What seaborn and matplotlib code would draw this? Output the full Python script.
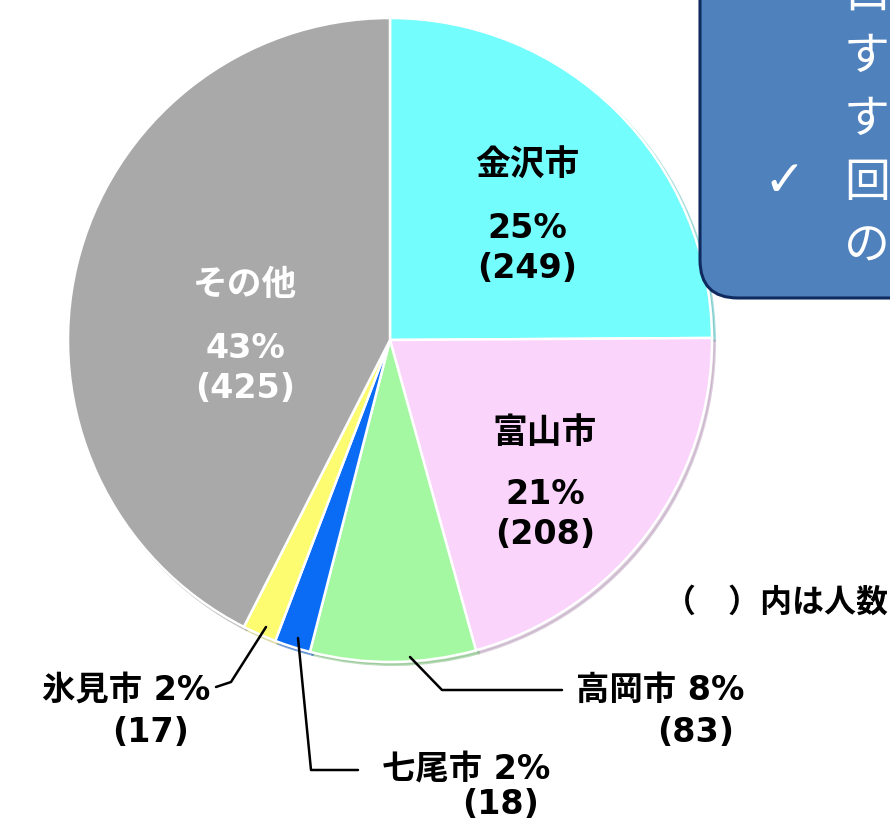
import matplotlib
matplotlib.use("Agg")
import matplotlib.pyplot as plt
from matplotlib.patches import FancyBboxPatch
import seaborn as sns

# data (clockwise from 12 o'clock)
cities = ['金沢市', '富山市', '高岡市', '七尾市', '氷見市', 'その他']
counts = [249, 208, 83, 18, 17, 425]
colors = ['#74FDFD', '#FAD4FB', '#A4F8A2', '#0A6CF5', '#FDFB70', '#A9A9A9']

box_lines = ['口', 'す', 'す', '回', 'の']
note_text = '（　）内は人数'

sns.set_theme(style='white')
plt.rcParams['font.family'] = ['Noto Sans CJK JP', 'DejaVu Sans']
plt.rcParams['text.color'] = 'black'
LAT = ['DejaVu Sans', 'Noto Sans CJK JP']   # latin first, CJK falls back

W, H = 890, 827
fig = plt.figure(figsize=(W / 100, H / 100), dpi=100)
ax = fig.add_axes([0, 0, 1, 1])
ax.set_xlim(0, W)
ax.set_ylim(0, H)
ax.set_aspect('equal')
ax.axis('off')


def Y(y):
    # image pixel row -> data y
    return H - y


total = sum(counts)
pcts = [int(c / total * 100 + 0.5) for c in counts]

ax.pie(counts, colors=colors, center=(390, Y(340)), radius=322,
       startangle=90, counterclock=False,
       wedgeprops=dict(edgecolor='white', linewidth=1.8),
       shadow=dict(ox=2, oy=-2, shade=0.25))
ax.set_xlim(0, W)
ax.set_ylim(0, H)

fs = 24
# labels inside the pie
inside = {0: (527, 165, 'black'), 1: (545, 432, 'black'), 5: (245, 285, 'white')}
for i, (x, y, col) in inside.items():
    ax.text(x, Y(y), cities[i], ha='center', va='center', fontsize=fs + 1,
            fontweight='bold', color=col)
    ax.text(x, Y(y + 63), f'{pcts[i]}%', ha='center', va='center', fontsize=fs,
            fontweight='bold', color=col, family=LAT)
    ax.text(x, Y(y + 103), f'({counts[i]})', ha='center', va='center',
            fontsize=fs, fontweight='bold', color=col, family=LAT)

# labels outside with leader lines
lk = dict(color='black', lw=1.8)
tk = dict(fontsize=fs, fontweight='bold', family=LAT, color='black')
# 高岡市
ax.plot([410, 442, 562], [Y(657), Y(690), Y(690)], **lk)
ax.text(576, Y(690), f'{cities[2]} {pcts[2]}%', ha='left', va='center', **tk)
ax.text(696, Y(733), f'({counts[2]})', ha='center', va='center', **tk)
# 七尾市
ax.plot([298, 311, 358], [Y(638), Y(770), Y(770)], **lk)
ax.text(382, Y(770), f'{cities[3]} {pcts[3]}%', ha='left', va='center', **tk)
ax.text(501, Y(805), f'({counts[3]})', ha='center', va='center', **tk)
# 氷見市
ax.plot([266, 231, 216], [Y(627), Y(682), Y(687)], **lk)
ax.text(210, Y(690), f'{cities[4]} {pcts[4]}%', ha='right', va='center', **tk)
ax.text(151, Y(733), f'({counts[4]})', ha='center', va='center', **tk)

# note (runs into the right edge, as in the source slide)
ax.text(664, Y(603), note_text, ha='left', va='center', fontsize=23,
        fontweight='bold', color='black')

# blue callout box (cropped at the top right)
box = FancyBboxPatch((700, Y(298)), 320, 400,
                     boxstyle='round,pad=0,rounding_size=38',
                     facecolor='#4F81BD', edgecolor='#0F2A5F', linewidth=2.2,
                     zorder=5)
ax.add_patch(box)
for k, ch in enumerate(box_lines):
    ax.text(844, Y(-6 + 63 * k), ch, ha='left', va='center', fontsize=33,
            color='white', zorder=6)
ax.text(784, Y(182), '✓', ha='center', va='center', fontsize=36,
        color='white', zorder=6, family=['DejaVu Sans'])

fig.savefig('out.png', dpi=100)
